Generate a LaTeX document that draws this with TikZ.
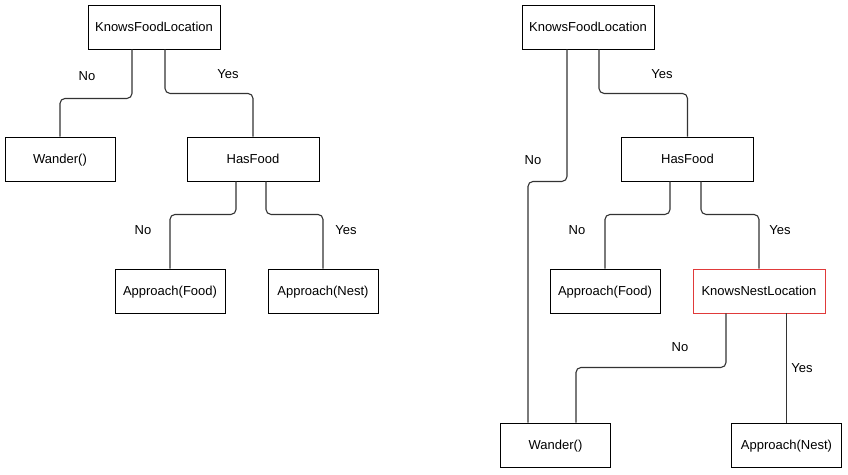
\documentclass[tikz,border=0pt]{standalone}
\usepackage{fontspec}
\setmainfont{Liberation Sans}
\usepackage{tikz}
\usetikzlibrary{positioning}
\definecolor{wirecol}{RGB}{51,51,51}
\definecolor{nestred}{RGB}{224,58,58}
\tikzset{
  bigbox/.style={rectangle,draw,line width=0.9pt,minimum width=132pt,minimum height=44pt,inner sep=0pt,align=center,text depth=0pt},
  smallbox/.style={bigbox,minimum width=110pt},
  redbox/.style={bigbox,draw=nestred},
  wire/.style={draw=wirecol,line width=1.1pt,rounded corners=5pt},
  lbl/.style={inner sep=0pt}
}

\begin{document}
\begin{tikzpicture}[x=1pt,y=-1pt,font=\fontsize{13}{15}\selectfont]
\useasboundingbox (0,0) rectangle (848,474);
% left tree
\node at (154,27)[bigbox](kfl){KnowsFoodLocation};
\node at (60,159)[smallbox](wander){Wander()};
\node at (253,159)[bigbox](hf){HasFood};
\node at (170,291)[smallbox](af){Approach(Food)};
\node at (323,291)[smallbox](an){Approach(Nest)};
\draw[wire] ([xshift=-22pt]kfl.south) -- ++(0,49) -| (wander.north);
\draw[wire] ([xshift=11pt]kfl.south) -- ++(0,44) -| (hf.north);
\draw[wire] ([xshift=-17pt]hf.south) -- ++(0,33) -| (af.north);
\draw[wire] ([xshift=13pt]hf.south) -- ++(0,33) -| (an.north);
\node at (87,76)[lbl](kflno){No};
\node at (228,74)[lbl](kflyes){Yes};
\node at (143,230)[lbl](hfno){No};
\node at (346,230)[lbl](hfyes){Yes};
% right tree
\node at (588,27)[bigbox](kfltwo){KnowsFoodLocation};
\node at (687.5,159)[bigbox](hftwo){HasFood};
\node at (605,291)[smallbox](aftwo){Approach(Food)};
\node at (759,291)[redbox](knl){KnowsNestLocation};
\node at (555.5,445)[smallbox](wandertwo){Wander()};
\node at (786.5,445)[smallbox](antwo){Approach(Nest)};
\draw[wire] ([xshift=-21pt]kfltwo.south) -- ++(0,132) -| ([xshift=-27.5pt]wandertwo.north);
\draw[wire] ([xshift=11pt]kfltwo.south) -- ++(0,44) -| (hftwo.north);
\draw[wire] ([xshift=-17.5pt]hftwo.south) -- ++(0,33) -| (aftwo.north);
\draw[wire] ([xshift=13.5pt]hftwo.south) -- ++(0,33) -| (knl.north);
\draw[wire] ([xshift=-33pt]knl.south) -- ++(0,54) -| ([xshift=20.5pt]wandertwo.north);
\draw[wire] ([xshift=27.5pt]knl.south) -- (antwo.north);
\node at (533,160)[lbl](kfltwono){No};
\node at (662,74)[lbl](kfltwoyes){Yes};
\node at (577,230)[lbl](hftwono){No};
\node at (780,230)[lbl](hftwoyes){Yes};
\node at (680,347)[lbl](knlno){No};
\node at (802,368)[lbl](knlyes){Yes};
\end{tikzpicture}
\end{document}
